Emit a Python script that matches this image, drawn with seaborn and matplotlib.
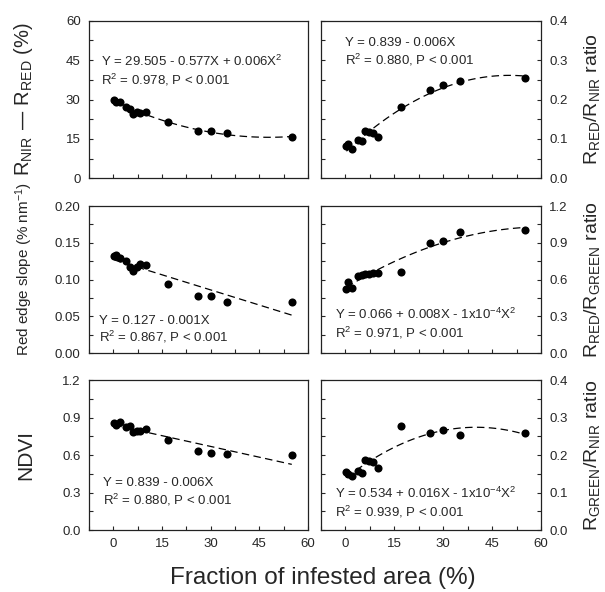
"""Six-panel scatter of vegetation indices vs. fraction of infested area, with fitted curves."""

import matplotlib
matplotlib.use("Agg")
import matplotlib.pyplot as plt
from matplotlib.ticker import MultipleLocator, FormatStrFormatter
import seaborn as sns

# fraction of infested area (%), shared by all panels
infested = [0.3, 0.7, 2, 4, 5, 6, 7.3, 8.3, 10, 17, 26, 30, 35, 55]

# left column
nir_minus_red = [30.0, 29.1, 29.2, 27.0, 26.3, 24.6, 25.2, 24.9, 25.2, 21.4, 18.0, 17.9, 17.2, 15.7]
red_edge_slope = [0.132, 0.133, 0.129, 0.125, 0.1175, 0.112, 0.1175, 0.1206, 0.1197,
                  0.0934, 0.0776, 0.078, 0.0698, 0.0698]
ndvi = [0.853, 0.840, 0.867, 0.827, 0.832, 0.787, 0.795, 0.795, 0.808, 0.720, 0.632, 0.619, 0.611, 0.600]

# right column
red_nir = [0.081, 0.088, 0.075, 0.098, 0.094, 0.119, 0.117, 0.116, 0.106, 0.181, 0.225, 0.237, 0.246, 0.255]
red_green = [0.522, 0.582, 0.528, 0.629, 0.637, 0.643, 0.645, 0.651, 0.651, 0.665, 0.896, 0.918, 0.986, 1.005]
green_nir = [0.155, 0.150, 0.144, 0.157, 0.153, 0.187, 0.184, 0.181, 0.166, 0.277, 0.258, 0.266, 0.253, 0.259]

equations = [
    "Y = 29.505 - 0.577X + 0.006X$^2$\nR$^2$ = 0.978, P < 0.001",
    "Y = 0.839 - 0.006X\nR$^2$ = 0.880, P < 0.001",
    "Y = 0.127 - 0.001X\nR$^2$ = 0.867, P < 0.001",
    "Y = 0.066 + 0.008X - 1x10$^{-4}$X$^2$\nR$^2$ = 0.971, P < 0.001",
    "Y = 0.839 - 0.006X\nR$^2$ = 0.880, P < 0.001",
    "Y = 0.534 + 0.016X - 1x10$^{-4}$X$^2$\nR$^2$ = 0.939, P < 0.001",
]
ylabels = [
    "R$_{NIR}$ — R$_{RED}$ (%)",
    "R$_{RED}$/R$_{NIR}$ ratio",
    "Red edge slope (% nm$^{-1}$)",
    "R$_{RED}$/R$_{GREEN}$ ratio",
    "NDVI",
    "R$_{GREEN}$/R$_{NIR}$ ratio",
]

sns.set_style("ticks")
plt.rcParams["font.family"] = ["Liberation Sans", "DejaVu Sans"]
plt.rcParams["mathtext.default"] = "regular"

fig = plt.figure(figsize=(6.05, 5.92), dpi=100)

# panel boxes in figure fractions
col_x = [0.1471, 0.5306]
col_w = [0.362, 0.3636]
row_y = [0.6988, 0.4037, 0.1047]
row_h = [0.2662, 0.2483, 0.2534]

panels = [
    # values, fit order, ymax, major step, tick format, text x, text y (centre)
    (nir_minus_red, 2, 60, 15, "%d", 0.053, 0.68),
    (red_nir, 2, 0.4, 0.1, "%.1f", 0.11, 0.80),
    (red_edge_slope, 1, 0.20, 0.05, "%.2f", 0.046, 0.157),
    (red_green, 2, 1.2, 0.3, "%.1f", 0.064, 0.196),
    (ndvi, 1, 1.2, 0.3, "%.1f", 0.064, 0.249),
    (green_nir, 2, 0.4, 0.1, "%.1f", 0.064, 0.18),
]
label_y = [0.5, 0.5, 0.57, 0.5, 0.5, 0.5]
label_size = [14.5, 14, 11, 14, 15, 14]

for i, (vals, order, ymax, step, fmt, tx, ty) in enumerate(panels):
    row, col = divmod(i, 2)
    ax = fig.add_axes([col_x[col], row_y[row], col_w[col], row_h[row]])
    sns.regplot(x=infested, y=vals, ax=ax, order=order, ci=None, truncate=True,
                scatter_kws=dict(s=34, color="black", alpha=1, linewidths=0, zorder=3),
                line_kws=dict(color="black", lw=0.9, ls=(0, (6, 3.5))))

    ax.set_xlim(-7.5, 60)
    ax.set_ylim(0, ymax)
    ax.xaxis.set_major_locator(MultipleLocator(15))
    ax.xaxis.set_minor_locator(MultipleLocator(7.5))
    ax.yaxis.set_major_locator(MultipleLocator(step))
    ax.yaxis.set_minor_locator(MultipleLocator(step / 2))
    ax.yaxis.set_major_formatter(FormatStrFormatter(fmt))

    ax.tick_params(which="both", direction="in", length=3, width=0.8, labelsize=9.5,
                   pad=6, top=False, labelbottom=(row == 2))
    if col == 1:
        ax.tick_params(axis="y", which="both", left=True, right=True,
                       labelleft=False, labelright=True)
        ax.yaxis.set_label_position("right")
    for sp in ax.spines.values():
        sp.set_linewidth(0.9)
        sp.set_color("#222222")

    ax.set_xlabel("")
    ax.set_ylabel(ylabels[i], fontsize=label_size[i])
    if col == 0:
        ax.yaxis.set_label_coords(-0.245, label_y[i])
    else:
        ax.yaxis.set_label_coords(1.185, label_y[i])

    ax.text(tx, ty, equations[i], transform=ax.transAxes, fontsize=9.5,
            va="center", linespacing=1.2)

fig.text(0.534, 0.024, "Fraction of infested area (%)", ha="center", va="center", fontsize=17.5)

fig.savefig("out.png", dpi=100)
plt.close(fig)
